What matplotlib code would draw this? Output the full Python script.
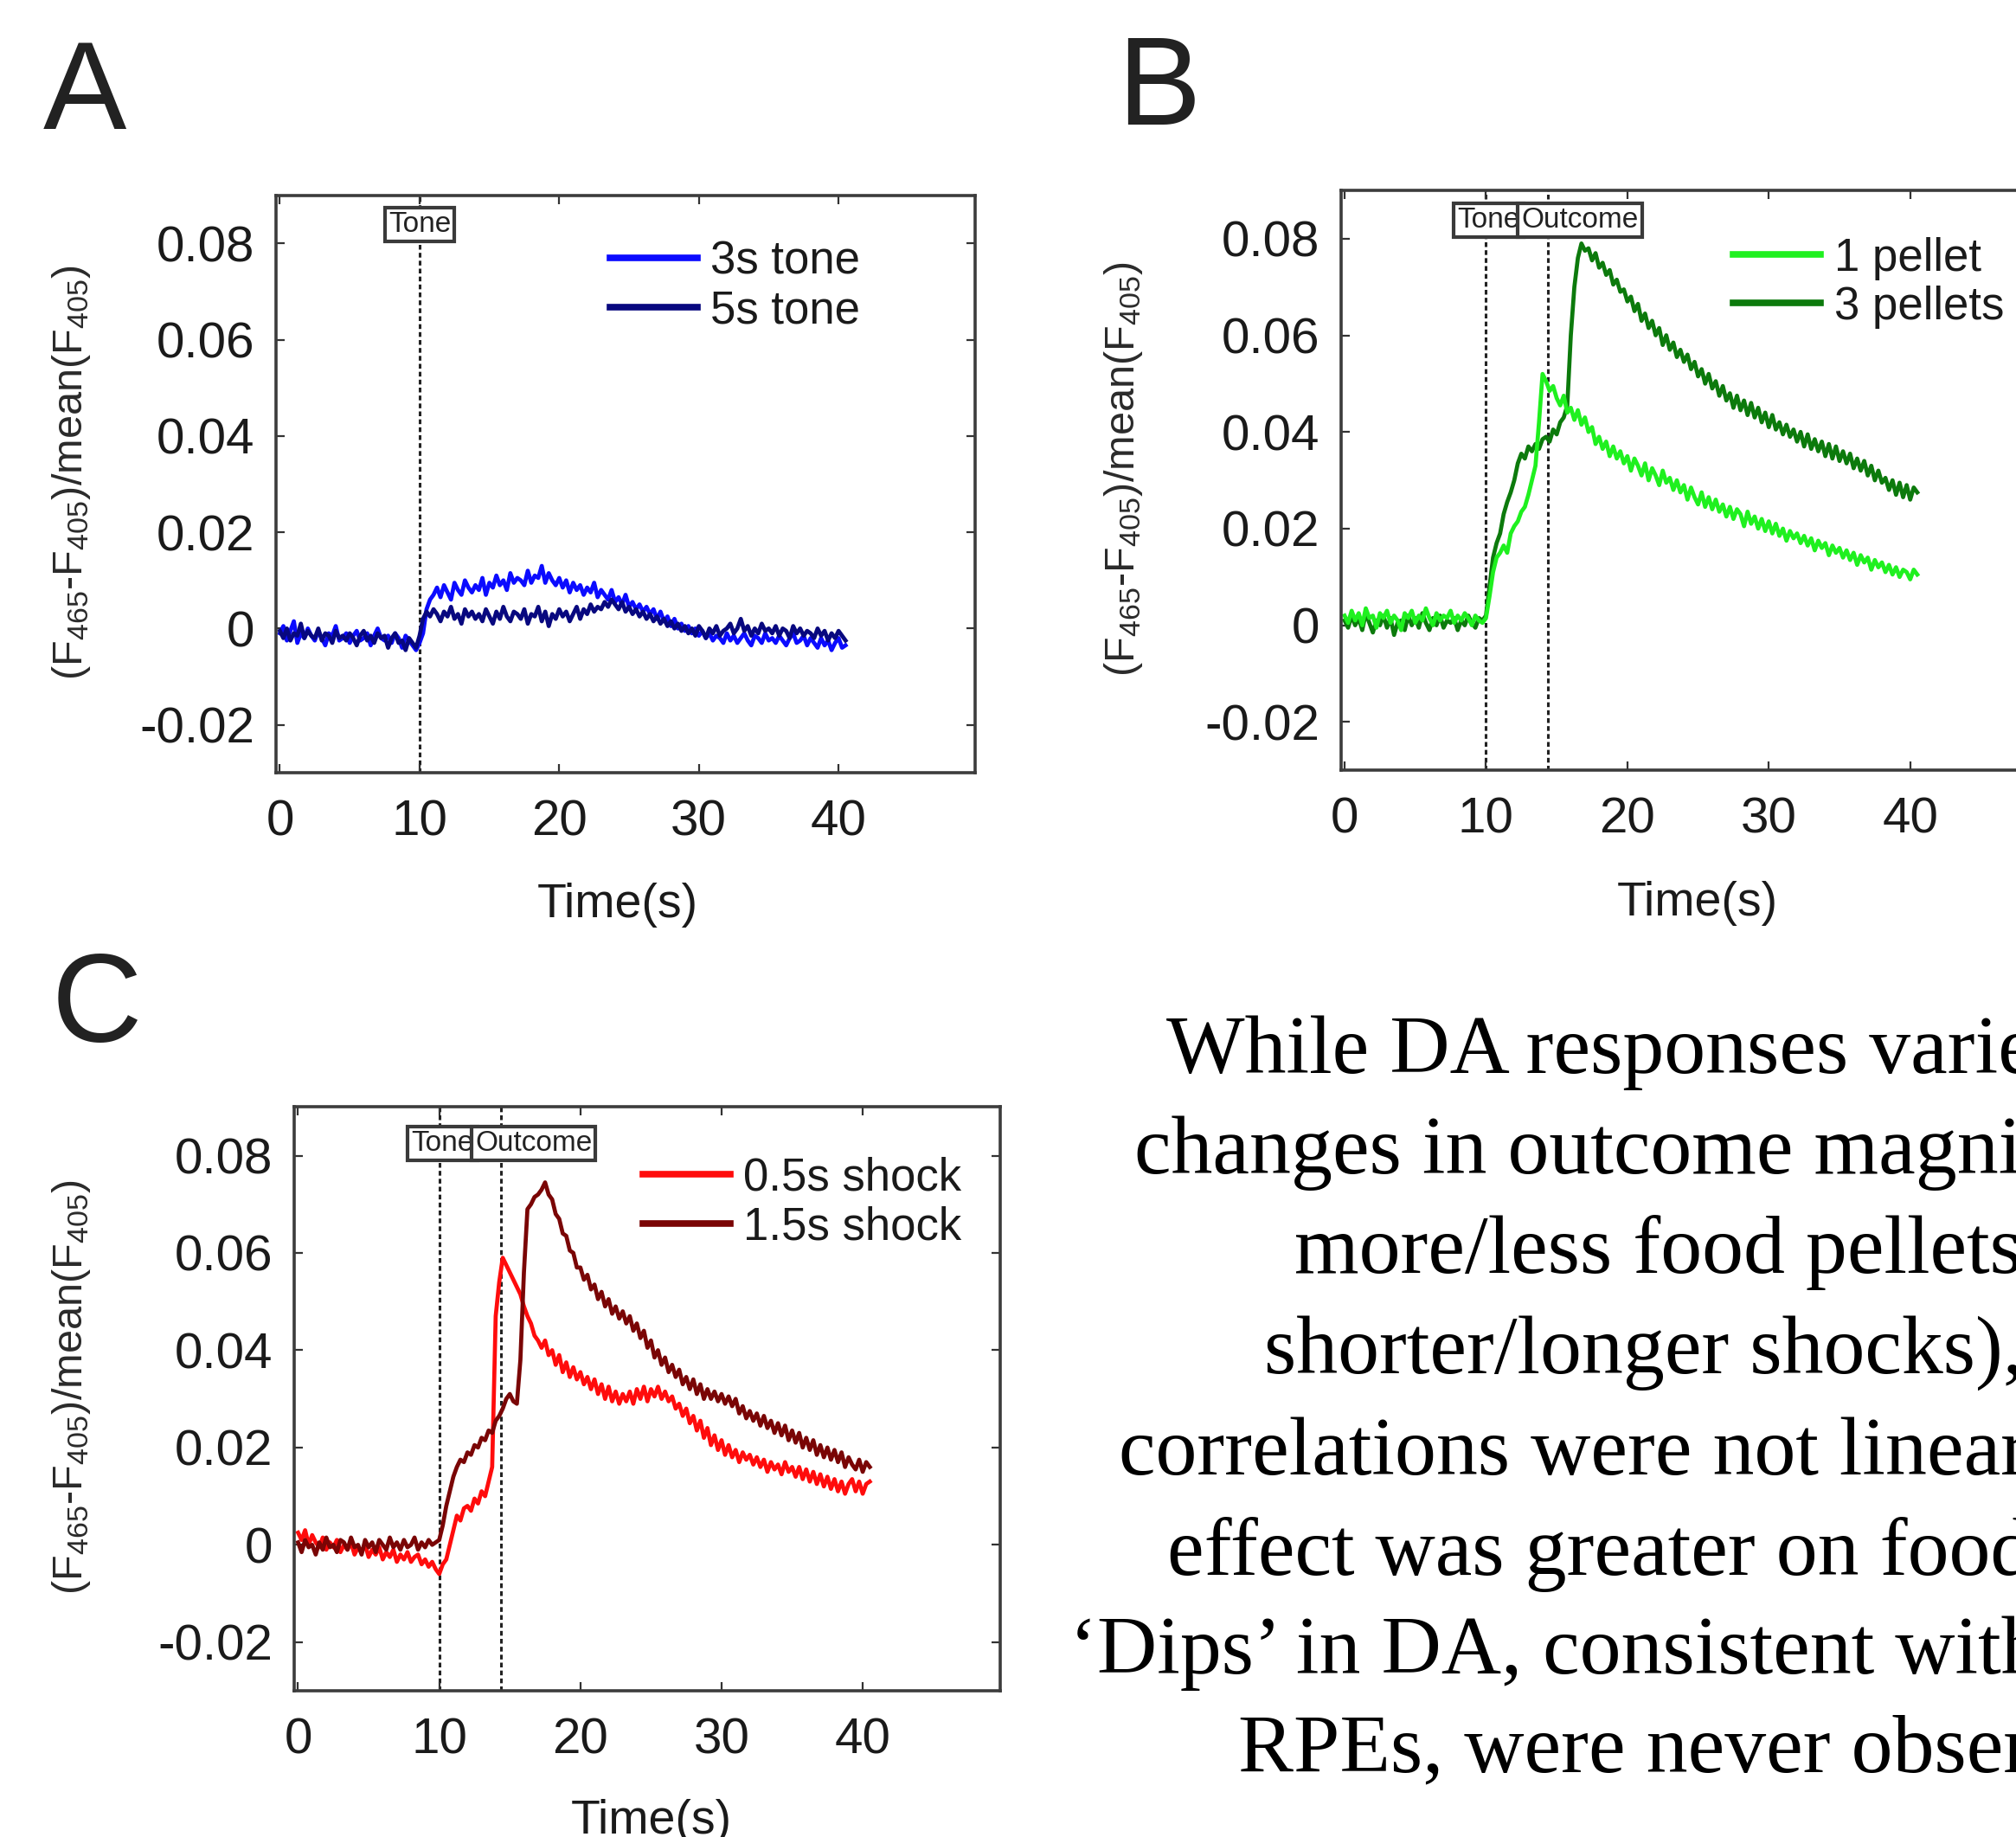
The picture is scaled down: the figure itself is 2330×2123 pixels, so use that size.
import matplotlib.pyplot as plt
import numpy as np

plt.rcParams['font.family'] = ['Liberation Sans', 'DejaVu Sans']
plt.rcParams['mathtext.fontset'] = 'custom'
plt.rcParams['mathtext.rm'] = 'Liberation Sans'
plt.rcParams['mathtext.it'] = 'Liberation Sans:italic'

# traces are sampled every 0.25 s, values below are in units of 1e-4
dt = 0.25
scale = 1e-4

# A - tone only
tone_3s = [-10, 5, -25, -5, 15, -30, -10, -20, 0, -15,
           -25, -5, -20, -35, -10, -15, 5, -25, -20, -10,
           -30, -15, -5, -25, -20, -10, -35, -15, 0, -20,
           -25, -15, -30, -10, -20, -40, -15, -25, -35, -45, -30,
           -10, 40, 60, 70,
           85, 65, 90, 75, 60, 95, 80, 70, 100, 85, 75, 90,
           80, 105, 70, 95, 85, 110, 90, 100, 80, 115, 95, 105,
           100, 90, 120, 95, 110, 105, 130, 95, 115, 100, 90, 105,
           85, 100, 75, 95, 80, 90, 70, 85, 75, 95, 65, 80,
           70, 60, 80, 55, 65, 50, 70, 45, 55, 40, 50, 35,
           45, 30, 40, 20, 35, 15, 25, 5, 20, 0, 10, -5,
           5, -10, 0, -15, -5, -20, -10, -25, -15, -20, -30, -10,
           -25, -15, -30, -20, -10, -25, -35, -15, -20, -30, -10, -25,
           -20, -30, -15, -25, -35, -20, -10, -30, -25, -15, -35, -20,
           -30, -40, -20, -35, -25, -45, -30, -20, -40, -35]
tone_5s = [-5, -20, 0, -25, -10, -15, 10, -20, -5, -15,
           -20, 0, -25, -10, -15, -30, -5, -20, -15, -25,
           -10, -20, -35, -15, -5, -25, -15, -30, -10, -20,
           -15, -40, -20, -10, -30, -25, -45, -20, -30, -40, -15,
           20, 35, 25, 40,
           30, 15, 35, 25, 45, 20, 30, 10, 40, 25, 35, 20,
           30, 15, 40, 25, 10, 35, 20, 45, 25, 15, 35, 30,
           20, 40, 10, 30, 25, 45, 15, 35, 5, 30, 20, 40,
           25, 35, 15, 30, 45, 20, 40, 30, 50, 35, 45, 40,
           55, 45, 60, 50, 40, 55, 35, 45, 30, 40, 25, 35,
           20, 30, 15, 25, 10, 20, 5, 15, 0, 10, -5, 5,
           -10, 0, -15, 5, -5, -20, 0, -10, 5, -15, -5, 0,
           10, -10, 0, 20, -5, 5, -15, 0, -10, 10, -5, 0,
           -10, 5, -15, 0, -5, -20, 5, -10, 0, -15, -5, -10,
           -20, 0, -15, -5, -25, -10, -20, -5, -15, -25]

# B - food pellets
pellet_1 = [20, 5, 30, 10, 25, 0, 35, 15, 20, -5,
            25, 15, 30, 5, 20, 10, -10, 25, 15, 30,
            5, 20, 10, 35, 15, 0, 25, 10, 20, 15,
            30, 5, 20, 10, 25, 15, 0, 20, 10, 5, 15,
            60, 110, 140, 150,
            165, 150, 190, 205, 215, 235, 245, 270, 300, 330, 420, 520,
            505, 485, 495, 470, 455, 475, 440, 450, 425, 445, 415, 430,
            400, 410, 375, 390, 365, 380, 350, 370, 345, 360, 335, 350,
            320, 345, 330, 310, 335, 300, 325, 310, 290, 320, 295, 305,
            280, 300, 275, 290, 260, 285, 265, 250, 275, 245, 265, 240,
            260, 235, 250, 225, 245, 220, 240, 230, 205, 235, 210, 225,
            200, 220, 195, 215, 190, 210, 185, 200, 175, 195, 180, 190,
            170, 185, 165, 180, 155, 175, 160, 170, 145, 165, 150, 160,
            140, 155, 135, 150, 125, 145, 130, 140, 115, 135, 120, 130,
            110, 125, 105, 120, 100, 115, 110, 95, 115, 105]
pellet_3 = [10, -5, 20, 0, 15, -10, 25, 5, -15, 10,
            0, 20, -5, 15, -20, 5, 10, -10, 20, 0,
            15, -5, 25, 5, -10, 15, 0, 20, -5, 10,
            5, 15, -10, 10, 0, 20, 5, -5, 15, 10, 20,
            80, 140, 170, 190,
            230, 255, 275, 300, 335, 355, 345, 370, 360, 375, 365, 385,
            390, 380, 405, 395, 420, 430, 455, 600, 700, 760, 790, 775,
            780, 755, 770, 740, 750, 725, 735, 705, 715, 690, 695, 670,
            680, 650, 665, 630, 645, 615, 630, 600, 615, 580, 600, 570,
            585, 555, 570, 545, 560, 530, 545, 515, 530, 500, 520, 490,
            505, 475, 495, 465, 480, 450, 475, 445, 465, 435, 460, 430,
            450, 420, 440, 410, 435, 405, 420, 395, 415, 390, 405, 380,
            400, 370, 395, 365, 385, 360, 380, 350, 375, 345, 370, 340,
            360, 335, 355, 325, 345, 320, 340, 310, 330, 300, 320, 295,
            305, 280, 300, 270, 295, 265, 290, 260, 285, 275]

# C - foot shocks
shock_05 = [25, 10, 30, 0, 20, 5, -5, 15, -10, 5,
            -5, 10, -15, 0, -10, 5, -20, -5, -15, 0,
            -25, -10, -20, -5, -30, -15, -25, -10, -35, -20,
            -30, -15, -35, -25, -20, -40, -30, -45, -35, -50, -60,
            -40, -30, 0, 30,
            60, 50, 75, 80, 70, 95, 85, 110, 100, 130, 160, 470,
            540, 590, 575, 560, 545, 530, 515, 490, 470, 455, 430, 420,
            405, 420, 390, 400, 370, 390, 355, 375, 345, 365, 340, 355,
            330, 345, 320, 340, 310, 330, 300, 325, 295, 315, 290, 310,
            295, 315, 290, 320, 300, 325, 295, 320, 305, 325, 300, 315,
            295, 305, 280, 290, 265, 280, 250, 265, 235, 255, 220, 240,
            205, 225, 195, 215, 185, 205, 180, 195, 170, 190, 175, 185,
            165, 180, 160, 175, 150, 170, 155, 165, 145, 170, 150, 160,
            140, 160, 135, 155, 130, 150, 125, 145, 120, 140, 115, 135,
            110, 130, 105, 125, 135, 110, 130, 105, 125, 130]
shock_15 = [5, -15, 10, -5, 0, -20, 5, -10, 15, -5,
            0, -15, 10, 5, -10, 15, -5, 0, -20, 10,
            -5, 5, -15, 10, 0, -10, 15, -5, 5, -10,
            10, -5, 0, 15, -10, 5, -5, 10, 0, 5, 10,
            40, 80, 110, 140,
            160, 175, 170, 190, 185, 205, 200, 220, 215, 235, 230, 255,
            265, 280, 300, 310, 295, 290, 380, 560, 690, 700, 715, 720,
            730, 745, 720, 710, 680, 670, 640, 635, 605, 600, 570, 570,
            545, 555, 525, 535, 505, 520, 490, 505, 475, 490, 465, 480,
            455, 470, 440, 455, 425, 440, 405, 420, 385, 400, 370, 385,
            355, 370, 345, 360, 330, 345, 320, 340, 310, 330, 300, 320,
            300, 315, 295, 310, 290, 305, 285, 300, 270, 285, 260, 275,
            255, 270, 245, 265, 240, 255, 230, 250, 225, 245, 215, 235,
            210, 230, 200, 220, 195, 215, 185, 205, 180, 200, 175, 195,
            170, 190, 160, 180, 165, 155, 175, 150, 170, 160]

tone_on = 10.0
outcome_on = 14.4
xticks = [0, 10, 20, 30, 40]
yticks = [-0.02, 0, 0.02, 0.04, 0.06, 0.08]
ytick_labels = ['-0.02', '0', '0.02', '0.04', '0.06', '0.08']

ylab = r'(F$_{465}$-F$_{405}$)/mean(F$_{405}$)'

text_lines = ['While DA responses varie',
              'changes in outcome magni',
              'more/less food pellets',
              'shorter/longer shocks),',
              'correlations were not linear',
              'effect was greater on food',
              '\u2018Dips\u2019 in DA, consistent with',
              'RPEs, were never obser']

W, H = 2330, 2123
fig = plt.figure(figsize=(W / 100, H / 100), dpi=100)


def trace(vals):
    y = np.array(vals) * scale
    t = np.arange(len(y)) * dt
    return t, y


def panel(rect, ylab_x):
    ax = fig.add_axes(rect)
    ax.set_xlim(-0.25, 49.75)
    ax.set_ylim(-0.03, 0.09)
    ax.set_xticks(xticks)
    ax.set_xticklabels([str(v) for v in xticks])
    ax.set_yticks(yticks)
    ax.set_yticklabels(ytick_labels)
    ax.tick_params(direction='in', length=7, width=1.6, colors='#333333',
                   labelcolor='#1a1a1a', labelsize=42, top=True, right=True)
    ax.tick_params(axis='y', pad=18)
    ax.tick_params(axis='x', pad=22)
    for s in ax.spines.values():
        s.set_linewidth(2.6)
        s.set_color('#3c3c3c')
    ax.set_ylabel(ylab, fontsize=35, color='#2a2a2a')
    ax.yaxis.set_label_coords(ylab_x, 0.52)
    ax.set_xlabel('Time(s)', fontsize=40, color='#1a1a1a')
    return ax


def marker_box(ax, x, y, s, ha):
    ax.text(x, y, s, transform=ax.get_xaxis_transform(), ha=ha, va='center',
            fontsize=24, color='#222222',
            bbox=dict(boxstyle='square,pad=0.12', fc='white', ec='#3a3a3a', lw=3))


def legend(ax, lines, labels, anchor):
    leg = ax.legend(lines, labels, loc='upper left', bbox_to_anchor=anchor,
                    frameon=False, fontsize=38, handlelength=1.9,
                    handletextpad=0.3, labelspacing=0.12, borderpad=0,
                    borderaxespad=0)
    for ln in leg.get_lines():
        ln.set_linewidth(5.5)
    for tx in leg.get_texts():
        tx.set_color('#1a1a1a')


vline = dict(color='#222222', lw=2.2, linestyle=(0, (1.8, 1.2)), zorder=1)
tw = 3.4

# panel A
axA = panel([0.1371, 0.5793, 0.3464, 0.3143], -0.263)
axA.axvline(tone_on, **vline)
l1, = axA.plot(*trace(tone_3s), color='#0b0bff', lw=tw)
l2, = axA.plot(*trace(tone_5s), color='#08087f', lw=tw)
marker_box(axA, tone_on, 0.949, 'Tone', 'center')
legend(axA, [l1, l2], ['3s tone', '5s tone'], (0.478, 0.922))
axA.xaxis.set_label_coords(0.488, -0.19)

# panel B
axB = panel([0.6652, 0.5807, 0.3507, 0.3157], -0.278)
axB.axvline(tone_on, **vline)
axB.axvline(outcome_on, **vline)
l4, = axB.plot(*trace(pellet_3), color='#0c7a0c', lw=tw)
l3, = axB.plot(*trace(pellet_1), color='#1ff01f', lw=tw)
marker_box(axB, 12.4, 0.949, 'Tone', 'right')
marker_box(axB, 12.5, 0.949, 'Outcome', 'left')
legend(axB, [l3, l4], ['1 pellet', '3 pellets'], (0.555, 0.92))
axB.xaxis.set_label_coords(0.504, -0.19)

# panel C
axC = panel([0.1461, 0.0796, 0.3501, 0.3178], -0.286)
axC.axvline(tone_on, **vline)
axC.axvline(outcome_on, **vline)
l5, = axC.plot(*trace(shock_05), color='#ff0c0c', lw=tw)
l6, = axC.plot(*trace(shock_15), color='#7a0505', lw=tw)
marker_box(axC, 12.45, 0.938, 'Tone', 'right')
marker_box(axC, 12.55, 0.938, 'Outcome', 'left')
legend(axC, [l5, l6], ['0.5s shock', '1.5s shock'], (0.494, 0.915))
axC.xaxis.set_label_coords(0.506, -0.185)

# panel letters
for x, y, s in [(50, 149, 'A'), (1291, 144, 'B'), (60, 1204, 'C')]:
    fig.text(x / W, 1 - y / H, s, fontsize=104, color='#222222', va='baseline')

# text block on the right (runs off the slide edge)
xs = [1348, 1311, 1496, 1461, 1293, 1349, 1236, 1431]
ys = [1240, 1356, 1471, 1587, 1704, 1820, 1934, 2047]
for x, y, s in zip(xs, ys, text_lines):
    fig.text(x / W, 1 - y / H, s, fontsize=69, family='Liberation Serif',
             color='black', va='baseline')

fig.savefig('out.png', dpi=100)
